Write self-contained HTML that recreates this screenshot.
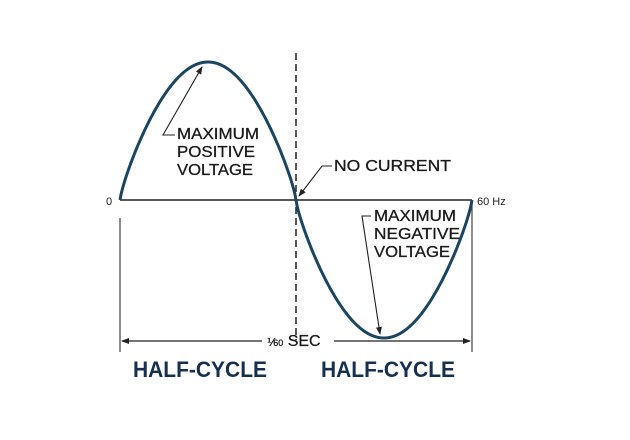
<!DOCTYPE html>
<html><head><meta charset="utf-8"><style>
html,body{margin:0;padding:0;background:#fff;width:630px;height:440px;overflow:hidden}
svg{display:block}
text{font-family:"Liberation Sans",sans-serif}
</style></head><body>
<svg width="630" height="440" viewBox="0 0 630 440" xmlns="http://www.w3.org/2000/svg">
<defs><marker id="ah" markerWidth="8" markerHeight="6" refX="7" refY="3" orient="auto" markerUnits="userSpaceOnUse"><path d="M0,0 L8,3 L0,6 z" fill="#222"/></marker></defs>
<line x1="120" y1="200" x2="472" y2="200" stroke="#222" stroke-width="1.5"/>
<line x1="296" y1="53" x2="296" y2="340" stroke="#222" stroke-width="1.5" stroke-dasharray="7,4"/>
<line x1="120" y1="218" x2="120" y2="352" stroke="#444" stroke-width="1.2"/>
<line x1="472" y1="200" x2="472" y2="352" stroke="#444" stroke-width="1.2"/>
<line x1="262" y1="341" x2="122" y2="341" stroke="#222" stroke-width="1.2" marker-end="url(#ah)"/>
<line x1="334" y1="341" x2="470" y2="341" stroke="#222" stroke-width="1.2" marker-end="url(#ah)"/>
<path id="wave" fill="none" stroke="#1c4660" stroke-width="3"/>
<polyline points="175,135 163,135 202,67" fill="none" stroke="#222" stroke-width="1.1" marker-end="url(#ah)"/>
<polyline points="332,166 322,166 299,196" fill="none" stroke="#222" stroke-width="1.1" marker-end="url(#ah)"/>
<polyline points="371,216 362,216 380,334" fill="none" stroke="#222" stroke-width="1.1" marker-end="url(#ah)"/>
<g font-size="16" fill="#1a1a1a" stroke="#1a1a1a" stroke-width="0.3">
<text x="177" y="139" textLength="82" lengthAdjust="spacingAndGlyphs">MAXIMUM</text>
<text x="177" y="157" textLength="78" lengthAdjust="spacingAndGlyphs">POSITIVE</text>
<text x="177" y="175" textLength="76" lengthAdjust="spacingAndGlyphs">VOLTAGE</text>
<text x="334" y="171" textLength="117" lengthAdjust="spacingAndGlyphs">NO CURRENT</text>
<text x="374" y="221" textLength="82" lengthAdjust="spacingAndGlyphs">MAXIMUM</text>
<text x="374" y="239" textLength="86" lengthAdjust="spacingAndGlyphs">NEGATIVE</text>
<text x="374" y="257" textLength="76" lengthAdjust="spacingAndGlyphs">VOLTAGE</text>
<text x="267" y="346"><tspan font-size="11">⅟</tspan><tspan font-size="9">60</tspan> SEC</text>
</g>
<text x="106" y="205" font-size="11" fill="#222">0</text>
<text x="477" y="205" font-size="11" fill="#222">60 Hz</text>
<g font-size="22" font-weight="bold" fill="#17304f">
<text x="133" y="377" textLength="134" lengthAdjust="spacingAndGlyphs">HALF-CYCLE</text>
<text x="321" y="377" textLength="134" lengthAdjust="spacingAndGlyphs">HALF-CYCLE</text>
</g>
</svg>
<script>
var d="",n=300;
for(var i=0;i<=n;i++){var x=120+352*i/n;var s=Math.sin(2*Math.PI*i/n);var v=(s<0?-1:1)*Math.pow(Math.abs(s),0.8);var y=200-138*v;d+=(i?"L":"M")+x.toFixed(2)+","+y.toFixed(2);}
document.getElementById("wave").setAttribute("d",d);
</script>
</body></html>
